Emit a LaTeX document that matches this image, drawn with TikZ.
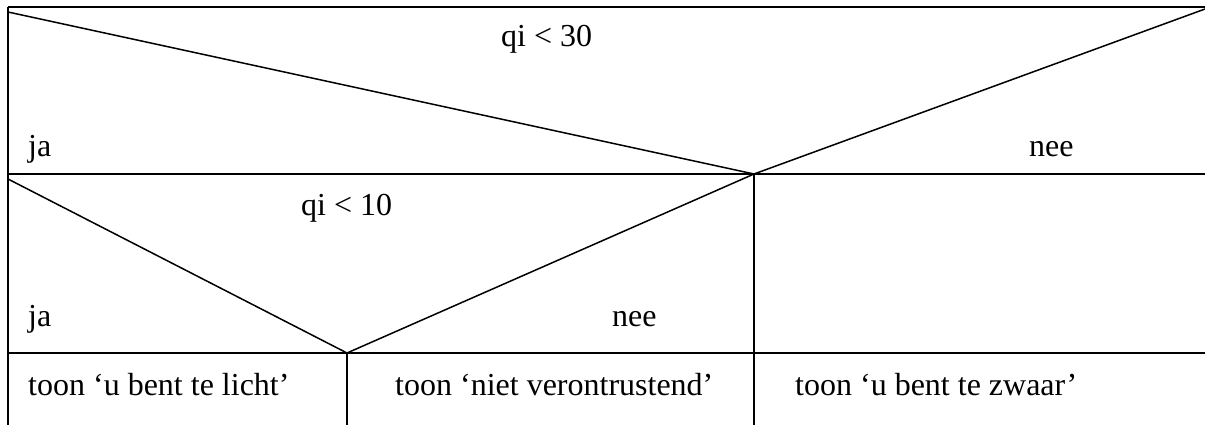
\documentclass[tikz,border=0pt]{standalone}
\usepackage{fontspec}
\setmainfont{Liberation Serif}
\usepackage{tikz}
\usetikzlibrary{positioning}

\begin{document}
\begin{tikzpicture}[
  x=1pt,y=-1pt,
  rule/.style={draw=black,line width=1.5pt},
  txt/.style={anchor=base west,inner sep=0pt,font=\fontsize{32}{38}\selectfont}
]
\useasboundingbox (0,0) rectangle (1205,425);

% frame corners and split points
\coordinate (tl) at (8,7);
\coordinate (tr) at (1205,7);
\coordinate (d1s) at (8,12);
\coordinate (d1e) at (1205,9);
\coordinate (m1) at (754,174);
\coordinate (h1l) at (8,174);
\coordinate (h1r) at (1205,174);
\coordinate (d2s) at (8,179);
\coordinate (m2) at (347,353);
\coordinate (h2l) at (8,353);
\coordinate (h2r) at (1205,353);
\coordinate (bl) at (8,425);
\coordinate (b2) at (347,425);
\coordinate (b3) at (754,425);

% outer lines
\draw[rule] (tl) -- (tr);
\draw[rule] (tl) -- (bl);
\draw[rule] (h1l) -- (h1r);
\draw[rule] (h2l) -- (h2r);

% decision qi < 30
\draw[rule] (d1s) -- (m1) -- (d1e);
\draw[rule] (m1) -- (b3);

% decision qi < 10
\draw[rule] (d2s) -- (m2) -- (m1);
\draw[rule] (m2) -- (b2);

\node[txt] (c30) at (501,47) {qi < 30};
\node[txt] (ja1) at (28,157) {ja};
\node[txt] (nee1) at (1029,157) {nee};
\node[txt] (c10) at (301,215) {qi < 10};
\node[txt] (ja2) at (28,326) {ja};
\node[txt] (nee2) at (612,326) {nee};

\node[txt] (licht) at (28,395) {toon ‘u bent te licht’};
\node[txt] (niet) at (395,395) {toon ‘niet verontrustend’};
\node[txt] (zwaar) at (795,395) {toon ‘u bent te zwaar’};
\end{tikzpicture}
\end{document}
